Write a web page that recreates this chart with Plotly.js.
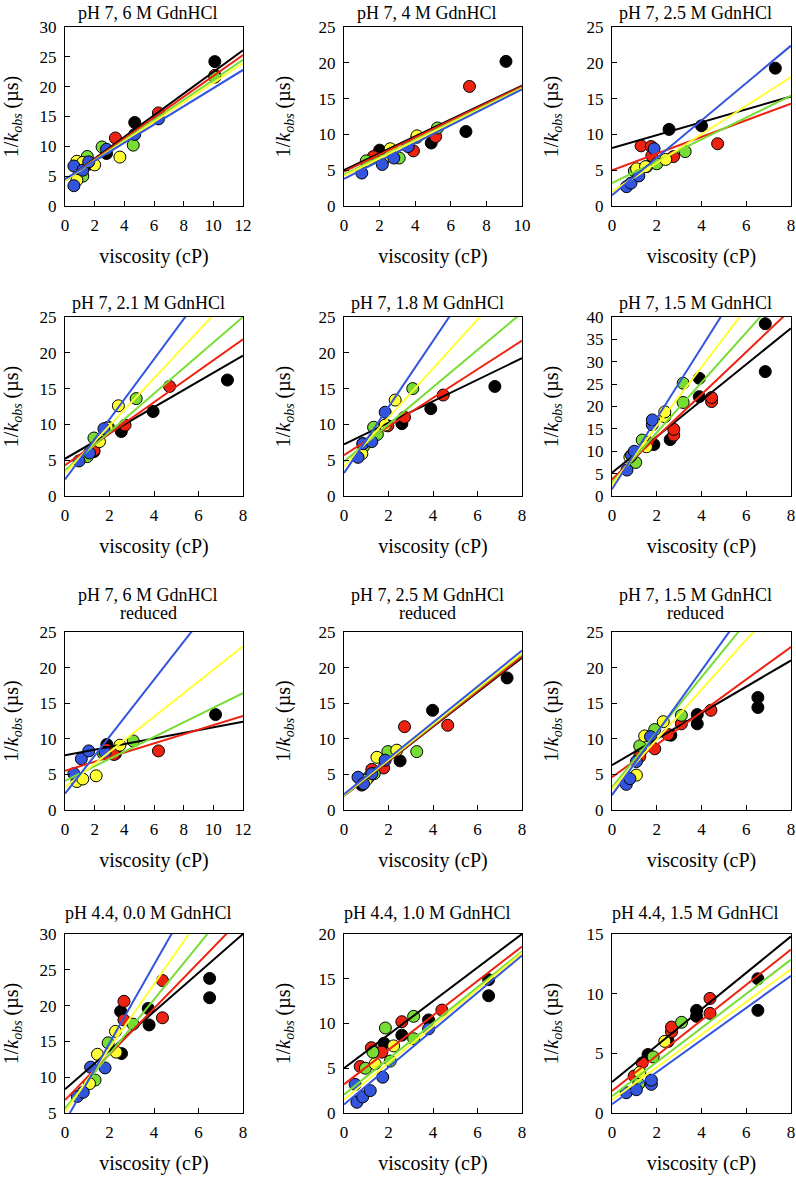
<!DOCTYPE html>
<html>
<head>
<meta charset="utf-8">
<script src="https://cdn.plot.ly/plotly-3.0.1.min.js"></script>
<style>
  html, body { margin: 0; padding: 0; background: #fff; }
  #chart { width: 796px; height: 1179px; }
</style>
</head>
<body>
<div id="chart"></div>
<script>
// panel titles (row by row)
const titles = [
  "pH 7, 6 M GdnHCl", "pH 7, 4 M GdnHCl", "pH 7, 2.5 M GdnHCl",
  "pH 7, 2.1 M GdnHCl", "pH 7, 1.8 M GdnHCl", "pH 7, 1.5 M GdnHCl",
  "pH 7, 6 M GdnHCl", "pH 7, 2.5 M GdnHCl", "pH 7, 1.5 M GdnHCl",
  "pH 4.4, 0.0 M GdnHCl", "pH 4.4, 1.0 M GdnHCl", "pH 4.4, 1.5 M GdnHCl",
];
const subtitles = ["", "", "", "", "", "", "reduced", "reduced", "reduced", "", "", ""];

const xMax = [12, 10, 8, 8, 8, 8, 12, 8, 8, 8, 8, 8];
const xStep = [2, 2, 2, 2, 2, 2, 2, 2, 2, 2, 2, 2];
const yMin = [0, 0, 0, 0, 0, 0, 0, 0, 0, 5, 0, 0];
const yMax = [30, 25, 25, 25, 25, 40, 25, 25, 25, 30, 20, 15];
const yStep = [5, 5, 5, 5, 5, 5, 5, 5, 5, 5, 5, 5];

// series order: black, red, green, yellow, blue
const p1X = [[1.0, 1.6, 2.8, 4.7, 10.1], [1.1, 1.7, 3.4, 6.3, 10.1], [1.2, 1.5, 2.5, 4.6, 10.1], [0.8, 0.8, 1.2, 2.0, 3.7], [0.6, 0.6, 1.2, 1.6, 2.8, 4.7, 6.3]];
const p1Y = [[5.5, 7.0, 8.8, 14.0, 24.2], [5.8, 7.2, 11.4, 15.6, 21.9], [5.0, 8.3, 9.9, 10.2, 21.6], [4.3, 7.5, 7.3, 6.9, 8.2], [3.4, 6.7, 6.0, 7.4, 9.5, 12.0, 14.6]];
const p2X = [[2.0, 4.9, 6.85, 9.1], [1.65, 3.9, 5.15, 7.05], [1.25, 3.1, 4.1, 5.25], [2.2, 2.6, 4.1], [1.0, 2.15, 2.8, 3.6]];
const p2Y = [[7.8, 8.8, 10.4, 20.2], [6.9, 7.7, 9.7, 16.7], [6.3, 6.7, 9.6, 10.9], [6.4, 8.0, 9.8], [4.6, 5.8, 6.7, 8.3]];
const p3X = [[2.55, 4.0, 7.3], [1.3, 1.75, 1.78, 2.75, 4.72], [1.0, 1.55, 2.0, 3.27], [1.1, 1.5, 2.4], [0.65, 0.85, 1.2, 1.88]];
const p3Y = [[10.7, 11.2, 19.25], [8.4, 8.3, 7.0, 6.9, 8.7], [4.9, 5.5, 5.9, 7.6], [5.2, 5.5, 6.5], [2.7, 3.2, 4.2, 8.0]];
const p4X = [[1.3, 2.53, 3.96, 7.3], [1.3, 2.7, 4.7], [1.0, 1.3, 1.95, 3.2], [1.55, 1.9, 2.4], [0.63, 1.1, 1.75]];
const p4Y = [[6.2, 9.0, 11.8, 16.2], [6.4, 9.9, 15.3], [5.5, 8.1, 9.6, 13.6], [7.6, 9.5, 12.6], [4.9, 6.0, 9.4]];
const p5X = [[0.85, 2.6, 3.9, 6.78], [0.9, 1.97, 2.72, 4.46], [0.88, 1.33, 1.5, 3.09], [0.8, 1.85, 2.3], [0.63, 0.85, 1.25, 1.85]];
const p5Y = [[7.3, 10.1, 12.2, 15.3], [7.2, 9.8, 11.0, 14.1], [6.9, 9.6, 8.6, 15.0], [5.9, 9.9, 13.4], [5.4, 7.3, 7.6, 11.7]];
const p6X = [[1.87, 2.6, 3.9, 3.9, 6.85, 6.85], [1.6, 2.76, 2.76, 4.45, 4.45], [1.06, 1.35, 3.18, 3.18], [0.8, 1.54, 2.36, 2.36], [0.67, 0.87, 1.0, 1.8, 1.8]];
const p6Y = [[11.5, 12.6, 22.2, 26.3, 27.8, 38.5], [12.0, 13.6, 14.9, 21.1, 22.0], [7.5, 12.5, 20.9, 25.2], [8.7, 11.0, 17.7, 18.8], [5.8, 9.1, 10.0, 15.9, 17.0]];
const p7X = [[2.82, 3.4, 10.15], [2.8, 3.3, 6.3], [2.6, 4.6], [0.8, 1.2, 2.1, 3.7], [0.6, 1.1, 1.6, 2.7]];
const p7Y = [[9.2, 7.9, 13.4], [8.5, 7.8, 8.3], [7.9, 9.7], [4.0, 4.35, 4.8, 9.1], [5.1, 7.2, 8.3, 8.1]];
const p8X = [[0.8, 2.52, 3.98, 7.33], [1.25, 1.78, 2.72, 4.66], [1.1, 1.36, 1.97, 3.27], [1.0, 1.48, 2.37], [0.63, 0.88, 1.25, 1.85]];
const p8Y = [[3.5, 6.9, 14.0, 18.55], [5.7, 5.9, 11.7, 11.9], [4.6, 5.1, 8.2, 8.2], [4.2, 7.4, 8.4], [4.6, 3.7, 5.1, 7.0]];
const p9X = [[1.3, 2.63, 3.81, 3.81, 6.52, 6.52], [1.24, 1.91, 2.5, 3.1, 4.42], [1.24, 1.91, 3.1], [1.09, 1.46, 2.29], [0.64, 0.8, 1.09, 1.72]];
const p9Y = [[8.3, 10.5, 12.1, 13.4, 14.4, 15.8], [7.5, 8.6, 10.6, 12.1, 14.0], [9.0, 11.3, 13.3], [4.9, 10.4, 12.4], [3.6, 4.4, 6.8, 10.3]];
const p10X = [[2.5, 2.54, 3.74, 3.78, 6.5, 6.5], [2.65, 2.65, 4.38, 4.38], [1.35, 1.94, 3.06], [1.1, 1.46, 2.27, 2.3], [0.55, 0.82, 1.15, 1.8]];
const p10Y = [[19.2, 13.3, 19.6, 17.3, 21.1, 23.8], [18.0, 20.6, 18.3, 23.5], [9.6, 14.8, 17.4], [9.1, 13.2, 16.4, 13.5], [7.3, 7.9, 11.4, 11.3]];
const p11X = [[1.8, 2.6, 3.8, 6.5, 6.5], [0.73, 1.23, 1.7, 2.6, 4.4], [0.96, 1.3, 1.86, 2.08, 3.13, 3.13], [1.4, 2.23], [0.5, 0.58, 0.84, 1.18, 1.74, 3.8]];
const p11Y = [[7.8, 8.7, 10.4, 13.1, 14.9], [5.2, 7.3, 6.8, 10.2, 11.5], [5.0, 6.8, 9.5, 5.8, 8.3, 10.8], [5.5, 7.5], [3.2, 1.2, 1.8, 2.5, 4.0, 9.4]];
const p12X = [[1.61, 2.51, 3.78, 3.78, 6.52, 6.52], [0.99, 1.35, 2.66, 2.66, 4.38, 4.38], [1.2, 1.84, 3.11], [1.24, 2.36], [0.64, 1.09, 1.76, 1.76]];
const p12Y = [[4.9, 6.0, 8.1, 8.6, 8.6, 11.25], [3.1, 4.2, 6.8, 7.2, 8.35, 9.6], [2.45, 4.7, 7.6], [3.4, 6.0], [1.7, 1.95, 2.4, 2.75]];

// fit lines: value at x = 0 and at x = xMax, per series
const fitStart = [
  [4.3, 4.3, 4.3, 4.3, 4.5], [5.0, 4.8, 4.4, 4.2, 3.8], [8.1, 5.0, 3.2, 2.0, 1.5],
  [5.2, 4.3, 3.6, 3.2, 2.3], [7.2, 5.7, 4.8, 4.1, 3.2], [5.2, 3.7, 3.0, 2.5, 1.5],
  [7.7, 5.5, 4.1, 3.2, 2.3], [2.0, 2.0, 2.05, 2.1, 2.2], [6.3, 4.6, 3.2, 2.9, 2.1],
  [8.3, 6.8, 5.6, 5.1, 3.8], [5.0, 3.2, 2.05, 1.5, 0.95], [2.6, 1.85, 1.4, 1.1, 0.73],
];
const fitEnd = [
  [26.1, 25.3, 24.5, 23.9, 22.8], [16.8, 16.7, 16.5, 16.4, 16.3], [15.3, 14.3, 15.4, 18.0, 22.4],
  [19.6, 21.9, 25.0, 29.7, 35.9], [19.25, 21.7, 25.6, 31.5, 40.1], [37.5, 41.7, 47.7, 55.1, 64.9],
  [12.4, 13.2, 16.4, 23.0, 34.3], [21.4, 21.6, 21.9, 22.05, 22.4], [21.0, 22.9, 34.1, 30.9, 37.1],
  [30.0, 32.4, 36.1, 40.9, 47.6], [20.0, 18.6, 18.05, 17.9, 17.6], [14.8, 13.7, 12.85, 12.05, 11.5],
];

const pointsX = [p1X, p2X, p3X, p4X, p5X, p6X, p7X, p8X, p9X, p10X, p11X, p12X];
const pointsY = [p1Y, p2Y, p3Y, p4Y, p5Y, p6Y, p7Y, p8Y, p9Y, p10Y, p11Y, p12Y];

const colors = ["#000000", "#ee2211", "#77dd33", "#ffff33", "#3355dd"];
const FONT = "Liberation Serif";
const W = 796, H = 1179;

// plot boxes in pixels
const colLeft = [65, 344, 612];
const colRight = [243, 522, 791];
const rowTop = [27, 317, 632, 934];
const rowBottom = [206, 496, 810, 1113];
const titleY = [13, 303, 595, 913];

const px = (x) => x / W;
const py = (y) => 1 - y / H;

const traces = [];
const layout = {
  width: W,
  height: H,
  margin: { l: 0, r: 0, t: 0, b: 0 },
  paper_bgcolor: "#fff",
  plot_bgcolor: "#fff",
  showlegend: false,
  font: { family: FONT, color: "#000", size: 16 },
  annotations: [],
};

titles.forEach((title, i) => {
  const row = Math.floor(i / 3), col = i % 3;
  const n = i === 0 ? "" : String(i + 1);
  const xa = "x" + n, ya = "y" + n;

  pointsX[i].forEach((xs, s) => {
    traces.push({
      x: xs,
      y: pointsY[i][s],
      xaxis: xa,
      yaxis: ya,
      type: "scatter",
      mode: "markers",
      marker: { size: 12, color: colors[s], line: { color: "#000", width: 1 } },
      hoverinfo: "skip",
    });
  });

  fitStart[i].forEach((y0, s) => {
    traces.push({
      x: [0, xMax[i]],
      y: [y0, fitEnd[i][s]],
      xaxis: xa,
      yaxis: ya,
      type: "scatter",
      mode: "lines",
      line: { color: colors[s], width: 2 },
      hoverinfo: "skip",
    });
  });

  const axisBase = {
    showline: true,
    mirror: true,
    linecolor: "#000",
    linewidth: 1,
    showgrid: false,
    zeroline: false,
    ticks: "inside",
    ticklen: 5,
    tickcolor: "#000",
    tickfont: { family: FONT, size: 17, color: "#000" },
    fixedrange: true,
    automargin: false,
  };

  layout["xaxis" + n] = {
    ...axisBase,
    anchor: ya,
    domain: [px(colLeft[col]), px(colRight[col])],
    range: [0, xMax[i]],
    dtick: xStep[i],
    tick0: 0,
    ticklabelstandoff: 4,
    title: { text: "viscosity (cP)", font: { family: FONT, size: 20 }, standoff: 14 },
  };
  layout["yaxis" + n] = {
    ...axisBase,
    anchor: xa,
    domain: [py(rowBottom[row]), py(rowTop[row])],
    range: [yMin[i], yMax[i]],
    dtick: yStep[i],
    tick0: 0,
    ticklabelstandoff: 4,
    title: { text: "1/<i>k</i><sub><i>obs</i></sub> (µs)", font: { family: FONT, size: 20 }, standoff: 22 },
  };

  const cx = (colLeft[col] + colRight[col]) / 2;
  layout.annotations.push({
    text: title,
    xref: "paper", yref: "paper",
    x: px(cx - 6), y: py(titleY[row]),
    xanchor: "center", yanchor: "middle",
    showarrow: false,
    font: { family: FONT, size: 18 },
  });
  if (subtitles[i]) {
    layout.annotations.push({
      text: subtitles[i],
      xref: "paper", yref: "paper",
      x: px(cx - 6), y: py(titleY[row] + 18),
      xanchor: "center", yanchor: "middle",
      showarrow: false,
      font: { family: FONT, size: 18 },
    });
  }
});

Plotly.newPlot("chart", traces, layout, { displayModeBar: false, staticPlot: true });
</script>
</body>
</html>
